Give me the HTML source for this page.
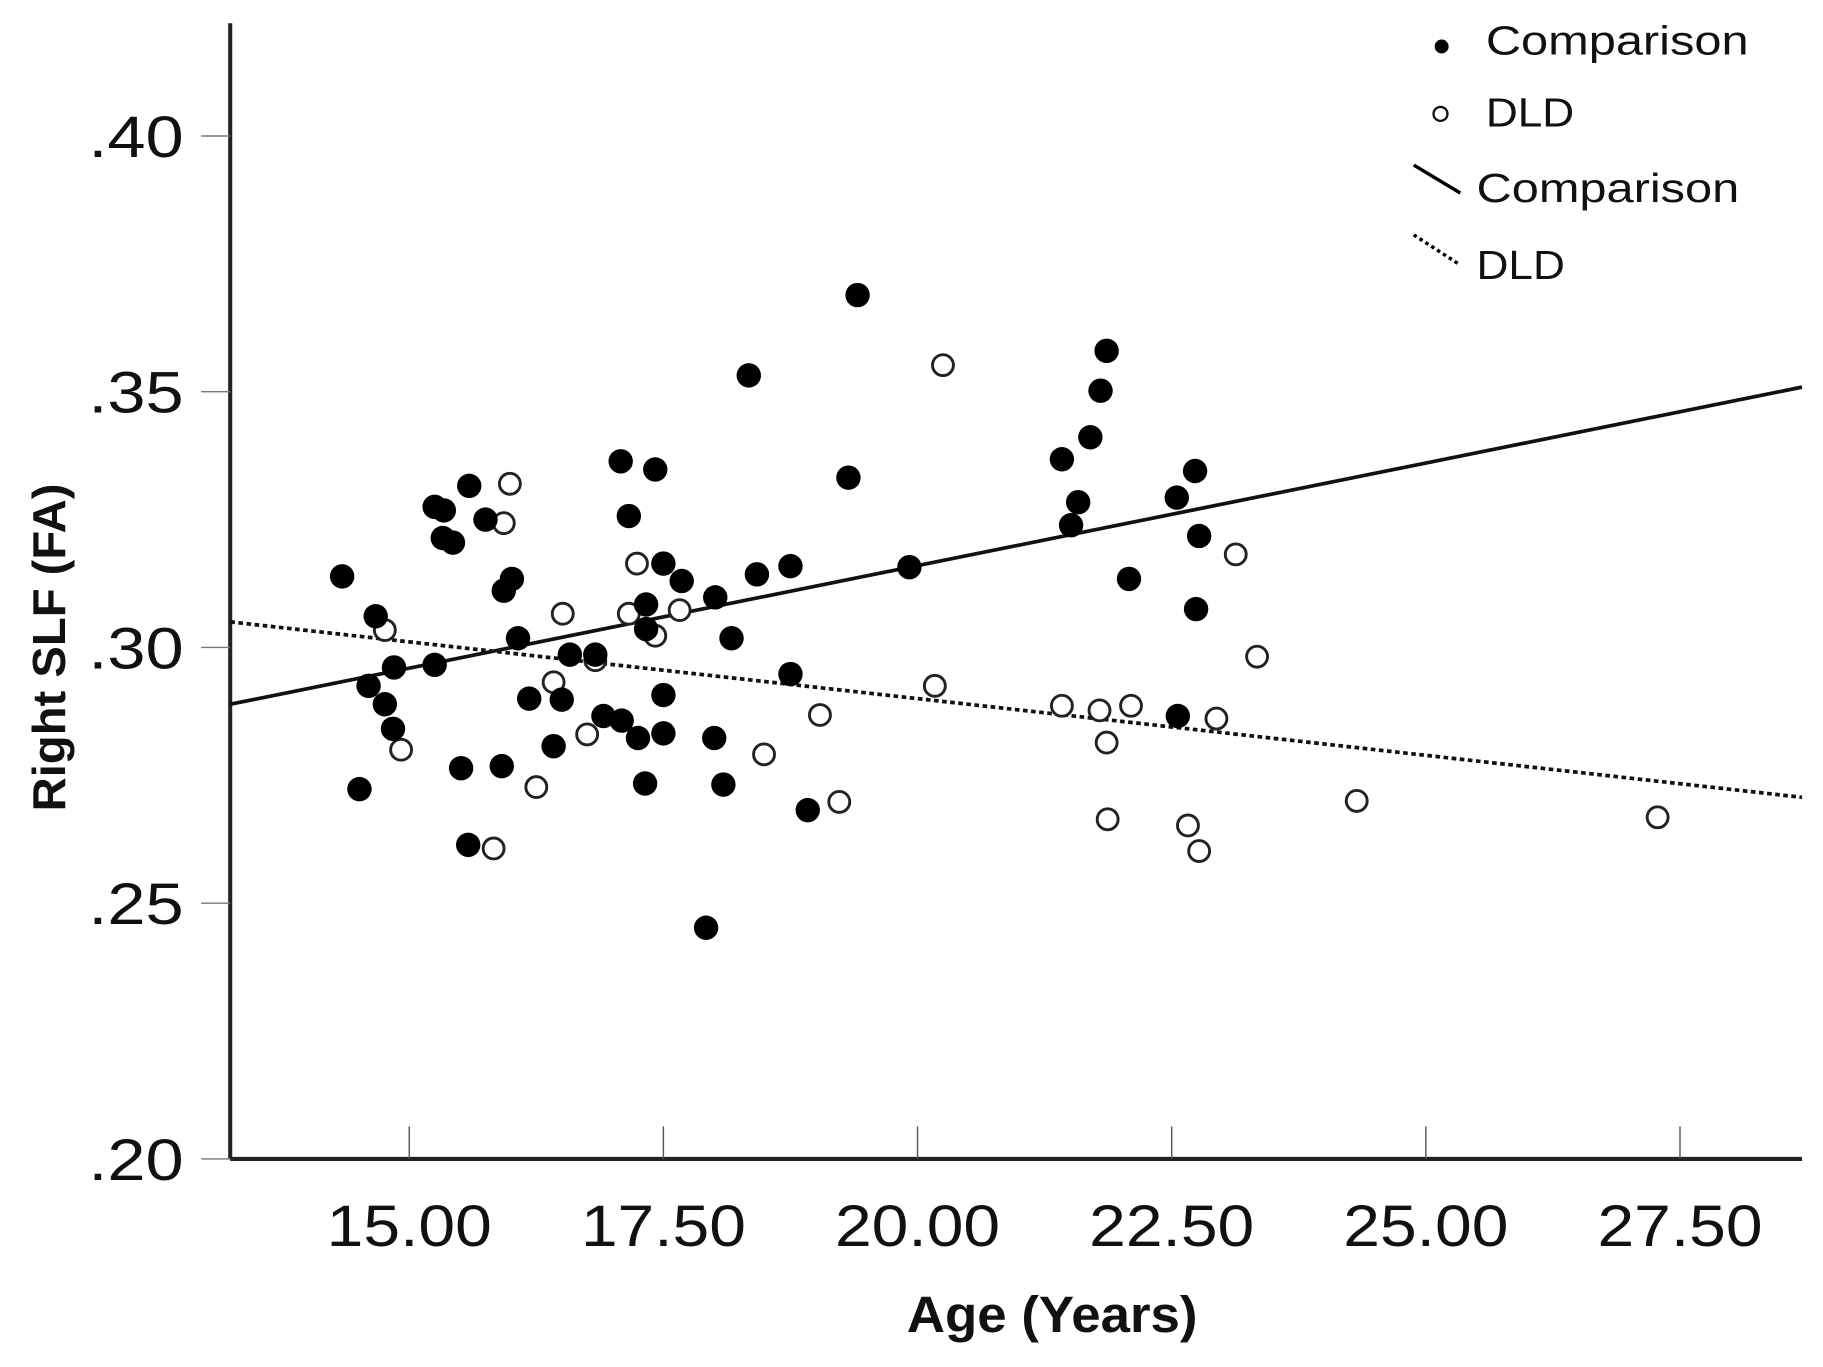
<!DOCTYPE html>
<html><head><meta charset="utf-8">
<style>
html,body{margin:0;padding:0;background:#fff;}
svg{display:block;}
text{font-family:"Liberation Sans",sans-serif;fill:#111;}
</style></head>
<body>
<svg id="chart" width="1823" height="1367" viewBox="0 0 1568 1176" preserveAspectRatio="none" xmlns="http://www.w3.org/2000/svg">
  <g id="axes"></g>
  <g id="lines"></g>
  <g id="points"></g>
  <text x="905" y="1146" text-anchor="middle" font-size="44" font-weight="bold" textLength="250" lengthAdjust="spacingAndGlyphs">Age (Years)</text>
  <text transform="translate(56,557) rotate(-90)" text-anchor="middle" font-size="40" font-weight="bold" textLength="282" lengthAdjust="spacingAndGlyphs">Right SLF (FA)</text>
  <g>
    <circle cx="1240" cy="40" r="6" fill="#000"/>
    <text x="1278" y="47" font-size="35" textLength="226" lengthAdjust="spacingAndGlyphs">Comparison</text>
    <circle cx="1239" cy="98" r="6" fill="#fff" stroke="#111" stroke-width="2"/>
    <text x="1278" y="109" font-size="35" textLength="76" lengthAdjust="spacingAndGlyphs">DLD</text>
    <line x1="1216" y1="142" x2="1256" y2="166" stroke="#000" stroke-width="3"/>
    <text x="1270" y="174" font-size="35" textLength="226" lengthAdjust="spacingAndGlyphs">Comparison</text>
    <line x1="1216" y1="202" x2="1256" y2="228" stroke="#000" stroke-width="3" stroke-dasharray="3,3"/>
    <text x="1270" y="240" font-size="35" textLength="76" lengthAdjust="spacingAndGlyphs">DLD</text>
  </g>
</svg>
<script>
const xTicks = [15, 17.5, 20, 22.5, 25, 27.5];
const xTickLabels = ["15.00", "17.50", "20.00", "22.50", "25.00", "27.50"];
const yTicks = [0.20, 0.25, 0.30, 0.35, 0.40];
const yTickLabels = [".20", ".25", ".30", ".35", ".40"];
const compAge = [14.34,14.51,14.60,14.67,14.76,14.84,14.85,15.25,15.25,15.34,15.33,15.43,15.51,15.59,15.58,15.75,15.91,15.93,16.01,16.07,16.18,16.42,16.50,16.58,16.83,16.91,17.08,17.09,17.16,17.25,17.32,17.33,17.33,17.42,17.50,17.50,17.50,17.68,17.92,18.00,18.01,18.09,18.17,18.34,18.42,18.75,18.75,18.92,19.32,19.41,19.92,21.42,21.51,21.58,21.70,21.80,21.86,22.08,22.55,22.56,22.73,22.77,22.74];
const compFA = [.3139,.2723,.2925,.3061,.2889,.2841,.2961,.2966,.3275,.3268,.3214,.3205,.2764,.3316,.2614,.3250,.2768,.3111,.3134,.3018,.2900,.2807,.2898,.2986,.2986,.2866,.3364,.2857,.3257,.2823,.2734,.3084,.3036,.3348,.2907,.2832,.3164,.3130,.2452,.2823,.3098,.2732,.3018,.3532,.3143,.3159,.2948,.2682,.3332,.3689,.3157,.3368,.3239,.3284,.3411,.3502,.3580,.3134,.3293,.2866,.3345,.3218,.3075];
const dldAge = [14.76,14.92,15.83,15.93,15.99,16.25,16.42,16.51,16.75,16.83,17.16,17.24,17.42,17.66,18.49,19.04,19.23,20.17,20.25,21.42,21.79,21.86,21.87,22.10,22.66,22.77,22.94,23.13,23.34,24.32,27.28];
const dldFA = [.3034,.2800,.2607,.3243,.3320,.2727,.2932,.3066,.2830,.2975,.3066,.3164,.3023,.3073,.2791,.2868,.2698,.2925,.3552,.2886,.2877,.2814,.2664,.2886,.2652,.2602,.2861,.3182,.2982,.2700,.2668];
const compFitAge = [13.24, 28.70];
const compFitFA = [0.2889, 0.3509];
const dldFitAge = [13.24, 28.70];
const dldFitFA = [0.3050, 0.2707];

const NS = "http://www.w3.org/2000/svg";
const X0 = 198, X1 = 1550, Y0 = 997, YT = 20;
function xScale(a){ return 352 + (a - 15) * 87.44; }
function yScale(v){ return 997 - (v - 0.20) * 4400; }
function mk(tag, attrs, parent){ const e = document.createElementNS(NS, tag); for (const k in attrs) e.setAttribute(k, attrs[k]); parent.appendChild(e); return e; }

const axes = document.getElementById('axes');
let yl = mk('line', {x1:X0, y1:YT, x2:X0, y2:Y0, stroke:'#222', 'stroke-width':3.5}, axes);


let xl = mk('line', {x1:X0, y1:Y0, x2:X1, y2:Y0, stroke:'#222', 'stroke-width':3.5}, axes);


xTicks.forEach((t, i) => {
  const x = xScale(t);
  const tk = mk('line', {x1:x, y1:Y0, x2:x, y2:Y0-28, stroke:'#555', 'stroke-width':1.2}, axes);
  
  
  const tx = mk('text', {x:x, y:1072, 'text-anchor':'middle', 'font-size':50, textLength:142, lengthAdjust:'spacingAndGlyphs'}, axes);
  tx.textContent = xTickLabels[i];
  
  
});
yTicks.forEach((t, i) => {
  const y = yScale(t);
  const tk = mk('line', {x1:X0-25, y1:y, x2:X0, y2:y, stroke:'#777', 'stroke-width':1.2}, axes);
  
  
  const tx = mk('text', {x:158, y:y+18, 'text-anchor':'end', 'font-size':50, textLength:82, lengthAdjust:'spacingAndGlyphs'}, axes);
  tx.textContent = yTickLabels[i];
  
  
});

const lines = document.getElementById('lines');
const l1 = mk('line', {x1:xScale(compFitAge[0]), y1:yScale(compFitFA[0]), x2:xScale(compFitAge[1]), y2:yScale(compFitFA[1]), stroke:'#111', 'stroke-width':3.2}, lines);


const l2 = mk('line', {x1:xScale(dldFitAge[0]), y1:yScale(dldFitFA[0]), x2:xScale(dldFitAge[1]), y2:yScale(dldFitFA[1]), stroke:'#111', 'stroke-width':3.2, 'stroke-dasharray':'4,3'}, lines);



const pts = document.getElementById('points');
dldAge.forEach((a, i) => {
  const c = mk('circle', {cx:xScale(a), cy:yScale(dldFA[i]), r:9, fill:'#fff', stroke:'#222', 'stroke-width':2.5}, pts);
  
  
});
compAge.forEach((a, i) => {
  const c = mk('circle', {cx:xScale(a), cy:yScale(compFA[i]), r:10.5, fill:'#000'}, pts);
  
  
});
</script>
</body></html>
